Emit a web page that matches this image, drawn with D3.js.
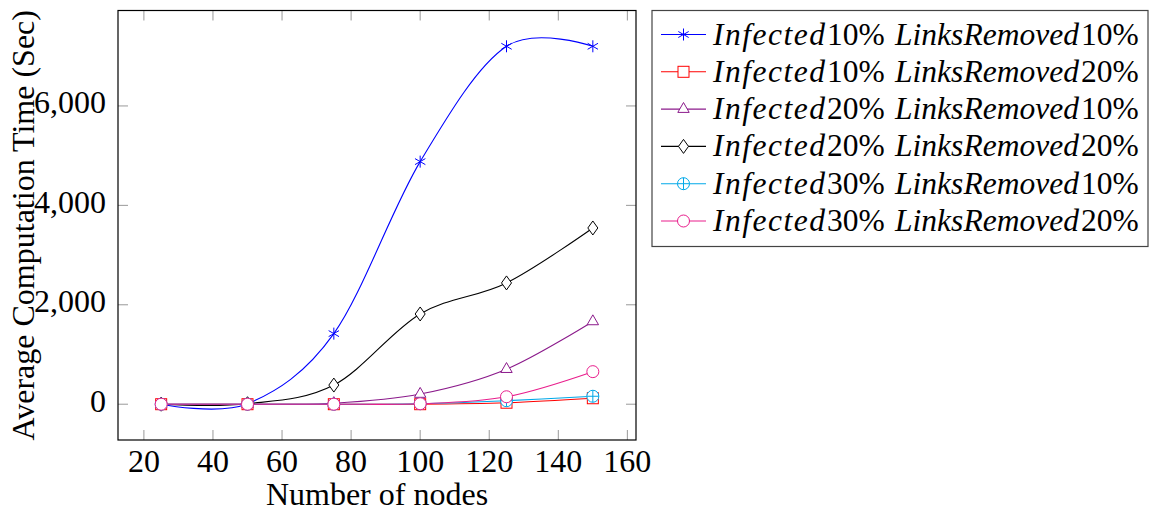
<!DOCTYPE html>
<html>
<head>
<meta charset="utf-8">
<script src="https://cdn.jsdelivr.net/npm/d3@7"></script>
<style>
  body { margin: 0; background: #fff; }
  svg { display: block; }
  svg text { font-family: "Liberation Serif", "DejaVu Serif", serif; fill: #000; }
</style>
</head>
<body>
<svg id="chart" width="1149" height="518"></svg>
<script>
// ---- data ----
const nodes = [25, 50, 75, 100, 125, 150];
const inf10lr10 = [0, 10, 1420, 4880, 7200, 7200];
const inf10lr20 = [0, 0, 0, 0, 30, 120];
const inf20lr10 = [0, 0, 20, 205, 705, 1665];
const inf20lr20 = [0, 10, 385, 1815, 2440, 3545];
const inf30lr10 = [0, 0, 0, 10, 70, 160];
const inf30lr20 = [0, 0, 0, 10, 150, 655];
const xTicks = [20, 40, 60, 80, 100, 120, 140, 160];
const yTicks = [0, 2000, 4000, 6000];
const seriesNames = [
  ["Infected", "10%", "LinksRemoved", "10%"],
  ["Infected", "10%", "LinksRemoved", "20%"],
  ["Infected", "20%", "LinksRemoved", "10%"],
  ["Infected", "20%", "LinksRemoved", "20%"],
  ["Infected", "30%", "LinksRemoved", "10%"],
  ["Infected", "30%", "LinksRemoved", "20%"]
];
const seriesValues = [inf10lr10, inf10lr20, inf20lr10, inf20lr20, inf30lr10, inf30lr20];
const colors = ["#0000ff", "#ff0000", "#8b1a8b", "#000000", "#00a8e8", "#e91e8c"];
const markers = ["asterisk", "square", "triangle", "diamond", "oplus", "circle"];

// ---- layout ----
const FONT = "'Liberation Serif', 'DejaVu Serif', serif";
const svg = d3.select("#chart");
const L = 118, R = 636, T = 10.5, B = 440;
const x = d3.scaleLinear().domain([12.5, 162.5]).range([L, R]);
const y = d3.scaleLinear().domain([-720, 7920]).range([B, T]);
const FS = 32;

function txt(sel) { return sel.append("text").attr("font-family", FONT); }

// ticks (inside, mirrored)
const tickLen = 10, tickColor = "#999";
const g = svg.append("g");
xTicks.forEach(t => {
  g.append("line").attr("x1", x(t)).attr("x2", x(t)).attr("y1", B).attr("y2", B - tickLen)
    .attr("stroke", tickColor).attr("stroke-width", 1);
  g.append("line").attr("x1", x(t)).attr("x2", x(t)).attr("y1", T).attr("y2", T + tickLen)
    .attr("stroke", tickColor).attr("stroke-width", 1);
  txt(g).attr("x", x(t)).attr("y", 472).attr("text-anchor", "middle")
    .attr("font-size", FS).text(t);
});
const fmt = d3.format(",");
yTicks.forEach(t => {
  g.append("line").attr("x1", L).attr("x2", L + tickLen).attr("y1", y(t)).attr("y2", y(t))
    .attr("stroke", tickColor).attr("stroke-width", 1);
  g.append("line").attr("x1", R).attr("x2", R - tickLen).attr("y1", y(t)).attr("y2", y(t))
    .attr("stroke", tickColor).attr("stroke-width", 1);
  txt(g).attr("x", 106).attr("y", y(t) + 7.5).attr("text-anchor", "end")
    .attr("font-size", FS).text(fmt(t));
});

// axis labels
txt(svg).attr("x", (L + R) / 2).attr("y", 505).attr("text-anchor", "middle")
  .attr("font-size", FS).text("Number of nodes");
txt(svg).attr("transform", `translate(34,${(T + B) / 2}) rotate(-90)`)
  .attr("text-anchor", "middle").attr("font-size", FS).text("Average Computation Time (Sec)");

// marker drawing
function drawMarker(sel, type, color, cx, cy) {
  const gg = sel.append("g").attr("transform", `translate(${cx},${cy})`)
    .attr("fill", "none").attr("stroke", color).attr("stroke-width", 1);
  const r = 6;
  if (type === "asterisk") {
    for (let a = 0; a < 3; a++) {
      const ang = Math.PI / 2 + a * Math.PI / 3;
      gg.append("line").attr("x1", r * Math.cos(ang)).attr("y1", r * Math.sin(ang))
        .attr("x2", -r * Math.cos(ang)).attr("y2", -r * Math.sin(ang));
    }
  } else if (type === "square") {
    gg.append("rect").attr("x", -5.5).attr("y", -5.5).attr("width", 11).attr("height", 11).attr("fill", "#fff");
  } else if (type === "triangle") {
    gg.append("path").attr("d", `M0,${-r * 1.1}L${r * 0.95},${r * 0.55}L${-r * 0.95},${r * 0.55}Z`).attr("fill", "#fff");
  } else if (type === "diamond") {
    gg.append("path").attr("d", `M0,${-7}L${5},0L0,${7}L${-5},0Z`).attr("fill", "#fff");
  } else if (type === "oplus") {
    gg.append("circle").attr("r", r).attr("fill", "#fff");
    gg.append("line").attr("x1", -r).attr("x2", r).attr("y1", 0).attr("y2", 0);
    gg.append("line").attr("y1", -r).attr("y2", r).attr("x1", 0).attr("x2", 0);
  } else if (type === "circle") {
    gg.append("circle").attr("r", r).attr("fill", "#fff");
  }
}

// series
const line = d3.line().x(d => x(d[0])).y(d => y(d[1])).curve(d3.curveCardinal.tension(0));
const plot = svg.append("g");
seriesValues.forEach((vals, i) => {
  const pts = nodes.map((n, j) => [n, vals[j]]);
  plot.append("path").attr("d", line(pts)).attr("fill", "none")
    .attr("stroke", colors[i]).attr("stroke-width", 1.1);
  pts.forEach(p => drawMarker(plot, markers[i], colors[i], x(p[0]), y(p[1])));
});

// frame
svg.append("rect").attr("x", L).attr("y", T).attr("width", R - L).attr("height", B - T)
  .attr("fill", "none").attr("stroke", "#000").attr("stroke-width", 1.2);

// legend
const LX = 652, LY = 10.5, LW = 496, LH = 236;
const lg = svg.append("g");
lg.append("rect").attr("x", LX).attr("y", LY).attr("width", LW).attr("height", LH)
  .attr("fill", "#fff").attr("stroke", "#444").attr("stroke-width", 1.2);
const LFS = 31.5;
seriesNames.forEach((parts, i) => {
  const cy = LY + 24 + i * 37.3;
  lg.append("line").attr("x1", 661).attr("x2", 706).attr("y1", cy).attr("y2", cy)
    .attr("stroke", colors[i]).attr("stroke-width", 1.1);
  drawMarker(lg, markers[i], colors[i], 683.5, cy);
  const base = cy + 10;
  txt(lg).attr("x", 713).attr("y", base).attr("font-size", LFS).attr("font-style", "italic")
    .attr("textLength", 112).attr("lengthAdjust", "spacing").text(parts[0]);
  txt(lg).attr("x", 827).attr("y", base).attr("font-size", LFS).text(parts[1]);
  txt(lg).attr("x", 895).attr("y", base).attr("font-size", LFS).attr("font-style", "italic")
    .attr("textLength", 184).attr("lengthAdjust", "spacing").text(parts[2]);
  txt(lg).attr("x", 1081).attr("y", base).attr("font-size", LFS).text(parts[3]);
});
</script>
</body>
</html>
